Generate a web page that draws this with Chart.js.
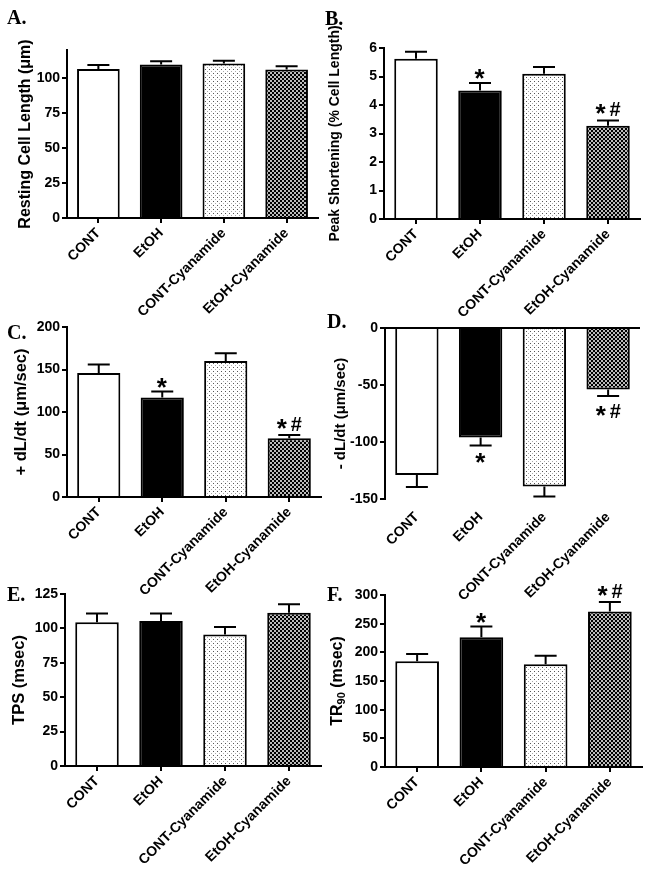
<!DOCTYPE html>
<html><head><meta charset="utf-8">
<script src="https://cdn.jsdelivr.net/npm/chart.js@4.4.1/dist/chart.umd.min.js"></script>
<style>
html,body{margin:0;padding:0;background:#fff;}
#wrap{position:relative;width:651px;height:872px;overflow:hidden;background:#fff;}
#wrap canvas{position:absolute;}
.lab{position:absolute;font:bold 20px "Liberation Serif","Times New Roman",serif;color:#000;line-height:1;}
</style></head><body>
<div id="wrap">
  <canvas id="cA" width="325" height="330" style="left:0;top:0"></canvas>
  <canvas id="cB" width="326" height="330" style="left:325px;top:0"></canvas>
  <canvas id="cC" width="325" height="320" style="left:0;top:290px"></canvas>
  <canvas id="cD" width="326" height="320" style="left:325px;top:290px"></canvas>
  <canvas id="cE" width="325" height="302" style="left:0;top:570px"></canvas>
  <canvas id="cF" width="326" height="302" style="left:325px;top:570px"></canvas>
  <div class="lab" style="left:7px;top:7px">A.</div>
  <div class="lab" style="left:325px;top:8px">B.</div>
  <div class="lab" style="left:7px;top:322px">C.</div>
  <div class="lab" style="left:327px;top:311px">D.</div>
  <div class="lab" style="left:7px;top:584px">E.</div>
  <div class="lab" style="left:327px;top:584px">F.</div>
</div>
<script>
// ---- data ----
const categories = ["CONT", "EtOH", "CONT-Cyanamide", "EtOH-Cyanamide"];

const restingLength    = [106.5, 109.6, 110.3, 106.0];
const restingLengthErr = [2.8, 2.4, 2.1, 2.4];
const restingLengthSig = ["", "", "", ""];

const peakShortening    = [5.62, 4.51, 5.10, 3.27];
const peakShorteningErr = [0.25, 0.26, 0.23, 0.19];
const peakShorteningSig = ["", "*", "", "*#"];

const plusDLdt    = [146, 117, 160, 69];
const plusDLdtErr = [10, 7, 9, 4];
const plusDLdtSig = ["", "*", "", "*#"];

const minusDLdt    = [-129, -96, -139, -54];
const minusDLdtErr = [10.5, 7, 8.7, 5.6];
const minusDLdtSig = ["", "*", "", "*#"];

const tps    = [104.4, 105.3, 95.6, 111.4];
const tpsErr = [6.5, 5.6, 5.4, 6.1];
const tpsSig = ["", "", "", ""];

const tr90    = [184.6, 226.5, 179.4, 271.4];
const tr90Err = [12.4, 18.5, 14.6, 16.3];
const tr90Sig = ["", "*", "", "*#"];

// ---- patterns ----
function tile(draw) {
  const c = document.createElement('canvas');
  c.width = 4; c.height = 4;
  const x = c.getContext('2d');
  draw(x);
  return x.createPattern(c, 'repeat');
}
const lightDots = tile(x => {
  x.fillStyle = '#fff'; x.fillRect(0, 0, 4, 4);
  x.fillStyle = '#555'; x.fillRect(1, 1, 1, 1);
  x.fillStyle = '#aaa'; x.fillRect(3, 3, 1, 1);
});
const darkCheck = tile(x => {
  x.fillStyle = '#bbb'; x.fillRect(0, 0, 4, 4);
  x.fillStyle = '#000'; x.fillRect(0, 0, 2, 2); x.fillRect(2, 2, 2, 2);
});
const fills = ['#ffffff', '#000000', lightDots, darkCheck];

const FONT = '"Liberation Sans", Arial, "DejaVu Sans", sans-serif';

// ---- error bars + significance marks ----
const errPlugin = {
  id: 'errbars',
  afterDatasetsDraw(chart) {
    const ctx = chart.ctx;
    const ds = chart.data.datasets[0];
    const meta = chart.getDatasetMeta(0);
    const ys = chart.scales.y;
    ctx.save();
    ctx.strokeStyle = '#000';
    ctx.lineWidth = 2;
    meta.data.forEach((bar, i) => {
      const v = ds.data[i], e = ds.errors[i];
      const neg = v < 0;
      const end = neg ? v - e : v + e;
      const y0 = ys.getPixelForValue(v), y1 = ys.getPixelForValue(end);
      ctx.beginPath();
      ctx.moveTo(bar.x, y0); ctx.lineTo(bar.x, y1);
      ctx.moveTo(bar.x - 11, y1); ctx.lineTo(bar.x + 11, y1);
      ctx.stroke();
      const m = ds.marks[i];
      if (!m) return;
      ctx.fillStyle = '#000';
      ctx.textBaseline = 'alphabetic';
      ctx.textAlign = 'left';
      const starFont = 'bold 26px ' + FONT, hashFont = 'bold 20px ' + FONT;
      ctx.font = starFont;
      const sm = ctx.measureText('*');
      const sw = sm.actualBoundingBoxRight + sm.actualBoundingBoxLeft;
      const sh = sm.actualBoundingBoxAscent + sm.actualBoundingBoxDescent;
      let hw = 0, hm = null;
      if (m.length > 1) {
        ctx.font = hashFont;
        hm = ctx.measureText('#');
        hw = hm.actualBoundingBoxRight + hm.actualBoundingBoxLeft;
      }
      const gapX = hm ? 3 : 0;
      const total = sw + gapX + hw;
      const left = bar.x - total / 2;
      const blockH = hm ? (hm.actualBoundingBoxAscent + hm.actualBoundingBoxDescent) : sh;
      const top = neg ? y1 + 8 : y1 - 4 - blockH;
      const mid = top + blockH / 2;
      ctx.font = starFont;
      const starTop = mid - sh / 2;
      ctx.fillText('*', left + sm.actualBoundingBoxLeft, starTop + sm.actualBoundingBoxAscent);
      if (hm) {
        ctx.font = hashFont;
        ctx.fillText('#', left + sw + gapX + hm.actualBoundingBoxLeft, top + hm.actualBoundingBoxAscent);
      }
    });
    ctx.restore();
  }
};

// y title with a subscript part, drawn rotated beside the y axis
function subTitlePlugin(cx, parts) {
  return {
    id: 'subTitle',
    afterDraw(chart) {
      const ctx = chart.ctx;
      const ca = chart.chartArea;
      ctx.save();
      ctx.translate(cx, (ca.top + ca.bottom) / 2);
      ctx.rotate(-Math.PI / 2);
      ctx.fillStyle = '#000';
      ctx.textBaseline = 'middle';
      ctx.textAlign = 'left';
      let total = 0;
      parts.forEach(p => { ctx.font = 'bold ' + p[1] + 'px ' + FONT; total += ctx.measureText(p[0]).width; });
      let x = -total / 2;
      parts.forEach(p => {
        ctx.font = 'bold ' + p[1] + 'px ' + FONT;
        ctx.fillText(p[0], x, p[2]);
        x += ctx.measureText(p[0]).width;
      });
      ctx.restore();
    }
  };
}

function makePanel(id, values, errors, marks, yMin, yMax, step, title, titleSize, area, titlePad, zeroTop, extraPlugin) {
  const canvas = document.getElementById(id);
  const W = canvas.width, H = canvas.height;
  const plugins = [errPlugin];
  if (extraPlugin) plugins.push(extraPlugin);
  new Chart(canvas, {
    type: 'bar',
    data: {
      labels: categories,
      datasets: [{
        data: values,
        errors: errors,
        marks: marks,
        backgroundColor: fills,
        borderColor: '#000',
        borderWidth: 2,
        barPercentage: 0.68,
        categoryPercentage: 1.0
      }]
    },
    options: {
      responsive: false,
      animation: false,
      events: [],
      layout: { padding: { top: area.t, right: W - area.r, bottom: 0, left: 0 } },
      plugins: { legend: { display: false }, tooltip: { enabled: false } },
      scales: {
        x: {
          afterFit: s => { s.height = H - area.b; },
          grid: zeroTop ? { display: false } : {
            display: true, drawOnChartArea: false, drawTicks: true, offset: false,
            tickLength: 5, color: '#000', lineWidth: 2
          },
          border: { display: !zeroTop, color: '#000', width: 2 },
          ticks: {
            autoSkip: false, minRotation: 45, maxRotation: 45, padding: 2,
            color: '#000', font: { family: FONT, size: 14, weight: 'bold' }
          }
        },
        y: {
          min: yMin, max: yMax,
          afterFit: s => { s.width = area.l; },
          grid: {
            display: true, drawOnChartArea: !!zeroTop, drawTicks: true, tickLength: 5,
            color: c => (zeroTop && c.tick && c.tick.value === 0) ? '#000' : (zeroTop ? 'rgba(0,0,0,0)' : '#000'),
            tickColor: '#000', lineWidth: 2
          },
          border: { display: true, color: '#000', width: 2 },
          ticks: {
            stepSize: step, includeBounds: false, padding: 2,
            color: '#000', font: { family: FONT, size: 14, weight: 'bold' }
          },
          title: {
            display: !!title, text: title || '', color: '#000',
            font: { family: FONT, size: titleSize, weight: 'bold' },
            padding: { top: titlePad, bottom: 0 }
          }
        }
      }
    },
    plugins: plugins
  });
}

makePanel('cA', restingLength, restingLengthErr, restingLengthSig, 0, 120, 25,
  'Resting Cell Length (\u03bcm)', 16, { l: 67, t: 50, r: 318, b: 218 }, 16);
makePanel('cB', peakShortening, peakShorteningErr, peakShorteningSig, 0, 6, 1,
  'Peak Shortening (% Cell Length)', 14, { l: 59, t: 48, r: 315, b: 219 }, 2);
makePanel('cC', plusDLdt, plusDLdtErr, plusDLdtSig, 0, 200, 50,
  '+ dL/dt (\u03bcm/sec)', 16.5, { l: 67, t: 37, r: 321, b: 207 }, 12);
makePanel('cD', minusDLdt, minusDLdtErr, minusDLdtSig, -150, 0, 50,
  '- dL/dt (\u03bcm/sec)', 15, { l: 60, t: 38, r: 315, b: 209 }, 7, true);
makePanel('cE', tps, tpsErr, tpsSig, 0, 125, 25,
  'TPS (msec)', 16.5, { l: 65, t: 24, r: 321, b: 196 }, 10);
makePanel('cF', tr90, tr90Err, tr90Sig, 0, 300, 50,
  '', 16, { l: 60, t: 25, r: 317, b: 197 }, 0, false,
  subTitlePlugin(13, [['TR', 16, 0], ['90', 11, 4], [' (msec)', 16, 0]]));
</script>
</body></html>
